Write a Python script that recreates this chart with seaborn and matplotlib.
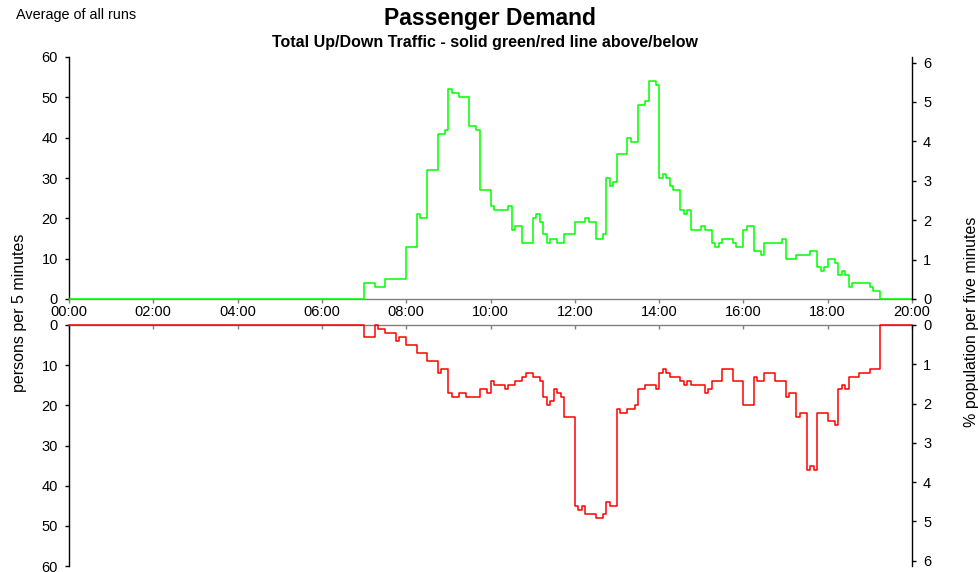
import numpy as np
import pandas as pd
import matplotlib
matplotlib.use("Agg")
import matplotlib.pyplot as plt
import seaborn as sns

# Five-minute passenger counts, averaged over all runs.
# Both series start at 07:00; every other five-minute slot of the day is zero.
SERIES_START = "07:00"
DAY_END_HOURS = 20

up_traffic = [
    4, 4, 4, 3, 3, 3,            # 07:00
    5, 5, 5, 5, 5, 5,            # 07:30
    13, 13, 13, 21, 20, 20,      # 08:00
    32, 32, 32, 41, 41, 42,      # 08:30
    52, 51, 51, 50, 50, 50,      # 09:00
    43, 43, 42, 27, 27, 27,      # 09:30
    23, 22, 22, 22, 22, 23,      # 10:00
    17, 18, 18, 14, 14, 14,      # 10:30
    20, 21, 19, 16, 14, 15,      # 11:00
    15, 14, 14, 16, 16, 16,      # 11:30
    19, 19, 19, 20, 19, 19,      # 12:00
    15, 15, 16, 30, 28, 29,      # 12:30
    36, 36, 36, 40, 39, 39,      # 13:00
    48, 48, 49, 54, 54, 53,      # 13:30
    30, 31, 30, 28, 27, 27,      # 14:00
    22, 21, 22, 17, 17, 17,      # 14:30
    18, 17, 17, 14, 13, 14,      # 15:00
    15, 15, 15, 14, 13, 13,      # 15:30
    17, 18, 18, 12, 12, 11,      # 16:00
    14, 14, 14, 14, 14, 15,      # 16:30
    10, 10, 10, 11, 11, 11,      # 17:00
    11, 12, 12, 8, 7, 8,         # 17:30
    10, 10, 9, 6, 7, 6,          # 18:00
    3, 4, 4, 4, 4, 4,            # 18:30
    3, 2, 2,                     # 19:00
]

down_traffic = [
    3, 3, 3, 0, 1, 1,            # 07:00
    2, 2, 2, 4, 3, 3,            # 07:30
    5, 5, 5, 7, 7, 7,            # 08:00
    9, 9, 9, 12, 11, 11,         # 08:30
    17, 18, 18, 17, 17, 18,      # 09:00
    18, 18, 18, 16, 16, 17,      # 09:30
    14, 15, 15, 15, 16, 15,      # 10:00
    15, 14, 14, 13, 12, 12,      # 10:30
    13, 13, 14, 18, 20, 19,      # 11:00
    16, 17, 18, 23, 23, 23,      # 11:30
    45, 46, 45, 47, 47, 47,      # 12:00
    48, 48, 47, 44, 45, 45,      # 12:30
    21, 22, 22, 21, 21, 20,      # 13:00
    16, 16, 15, 15, 15, 16,      # 13:30
    12, 11, 12, 13, 13, 13,      # 14:00
    14, 15, 14, 15, 15, 15,      # 14:30
    15, 17, 16, 14, 14, 14,      # 15:00
    11, 11, 11, 14, 14, 14,      # 15:30
    20, 20, 20, 13, 14, 14,      # 16:00
    12, 12, 12, 14, 14, 14,      # 16:30
    18, 17, 17, 23, 22, 22,      # 17:00
    36, 35, 36, 22, 22, 22,      # 17:30
    24, 24, 25, 16, 15, 16,      # 18:00
    13, 13, 13, 12, 12, 12,      # 18:30
    11, 11, 11,                  # 19:00
]

hour_ticks = [0, 2, 4, 6, 8, 10, 12, 14, 16, 18, 20]
hour_labels = ["00:00", "02:00", "04:00", "06:00", "08:00", "10:00",
               "12:00", "14:00", "16:00", "18:00", "20:00"]
count_ticks = [0, 10, 20, 30, 40, 50, 60]
percent_ticks = [0, 1, 2, 3, 4, 5, 6]


def day_profile(values):
    """Place a series on the full five-minute grid of the day (hours on x)."""
    slots = DAY_END_HOURS * 12
    h, m = map(int, SERIES_START.split(":"))
    start = h * 12 + m // 5
    full = np.zeros(slots + 1)
    full[start:start + len(values)] = values
    full[slots] = full[slots - 1]          # closes the last step at 20:00
    return pd.DataFrame({"hour": np.arange(slots + 1) / 12.0, "persons": full})


up_df = day_profile(up_traffic)
down_df = day_profile(down_traffic)

sns.set_theme(style="white")
plt.rcParams["font.family"] = ["Liberation Sans", "DejaVu Sans"]
plt.rcParams["axes.linewidth"] = 1.0
plt.rcParams["text.color"] = "black"
plt.rcParams["axes.labelcolor"] = "black"
plt.rcParams["xtick.color"] = "black"
plt.rcParams["ytick.color"] = "black"

W, H = 979, 572
fig = plt.figure(figsize=(W / 100, H / 100), dpi=100)

left, right = 69 / W, 912 / W
ax_up = fig.add_axes([left, 1 - 299 / H, right - left, 242 / H])
ax_dn = fig.add_axes([left, 1 - 566 / H, right - left, 241 / H])

GREEN = "#00ff00"
RED = "#ff0000"
GREY = "#808080"
PCT_MAX = 6.14
TICK_FS = 10.5

sns.lineplot(data=up_df, x="hour", y="persons", ax=ax_up, color=GREEN,
             linewidth=1.1, drawstyle="steps-post", estimator=None,
             clip_on=False, zorder=5)
sns.lineplot(data=down_df, x="hour", y="persons", ax=ax_dn, color=RED,
             linewidth=1.1, drawstyle="steps-post", estimator=None,
             clip_on=False, zorder=5)

for ax in (ax_up, ax_dn):
    ax.set_xlim(0, DAY_END_HOURS)
    ax.set_yticks(count_ticks)
    ax.set_xlabel("")
    ax.set_ylabel("")
    ax.tick_params(axis="y", which="both", left=True, direction="out",
                   length=3, width=1, pad=5, labelsize=TICK_FS, colors="black")
    ax.spines["left"].set_color("black")
    ax.spines["right"].set_visible(False)

# upper panel: up traffic, time axis along its base
ax_up.set_ylim(0, 60)
ax_up.spines["top"].set_visible(False)
ax_up.spines["bottom"].set_color(GREY)
ax_up.set_xticks(hour_ticks)
ax_up.set_xticklabels(hour_labels)
ax_up.tick_params(axis="x", bottom=True, direction="out", length=3, width=1,
                  pad=1.5, labelsize=TICK_FS, color=GREY, labelcolor="black")

# lower panel: down traffic hanging below the shared time line
ax_dn.set_ylim(60, 0)
ax_dn.spines["bottom"].set_visible(False)
ax_dn.spines["top"].set_color(GREY)
ax_dn.xaxis.tick_top()
ax_dn.set_xticks(hour_ticks)
ax_dn.tick_params(axis="x", top=True, bottom=False, direction="in", length=3,
                  width=1, labeltop=False, labelbottom=False, color=GREY)

# right-hand scale: share of population per five minutes
for ax, lims in ((ax_up, (0, PCT_MAX)), (ax_dn, (PCT_MAX, 0))):
    axr = ax.twinx()
    axr.set_ylim(*lims)
    axr.set_yticks(percent_ticks)
    axr.grid(False)
    for s in ("top", "bottom", "left"):
        axr.spines[s].set_visible(False)
    axr.spines["right"].set_visible(True)
    axr.spines["right"].set_color("black")
    axr.tick_params(axis="y", right=True, direction="out", length=3, width=1,
                    pad=5, labelsize=TICK_FS, colors="black")

fig.text(16 / W, 1 - 15 / H, "Average of all runs", fontsize=10.4,
         ha="left", va="center")
fig.text(490 / W, 1 - 19 / H, "Passenger Demand", fontsize=16.5,
         fontweight="bold", ha="center", va="center")
fig.text(485 / W, 1 - 43 / H,
         "Total Up/Down Traffic - solid green/red line above/below",
         fontsize=11.5, fontweight="bold", ha="center", va="center")
fig.text(20 / W, 1 - 313 / H, "persons per 5 minutes", fontsize=11.5,
         rotation=90, ha="center", va="center")
fig.text(972 / W, 1 - 322 / H, "% population per five minutes", fontsize=11.5,
         rotation=90, ha="center", va="center")

fig.savefig("out.png", dpi=100)
